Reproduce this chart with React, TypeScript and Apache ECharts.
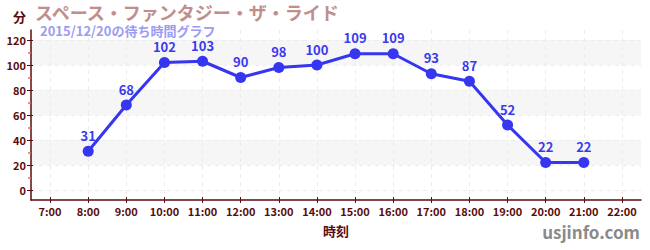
import React, { useEffect, useRef } from "react";
import * as echarts from "echarts";

const hours = ["7:00", "8:00", "9:00", "10:00", "11:00", "12:00", "13:00", "14:00", "15:00", "16:00", "17:00", "18:00", "19:00", "20:00", "21:00", "22:00"];
const waits: (number | null)[] = [null, 31, 68, 102, 103, 90, 98, 100, 109, 109, 93, 87, 52, 22, 22, null];
const yMajor = [0, 20, 40, 60, 80, 100, 120];
const yMinor = [10, 30, 50, 70, 90, 110];
const titleText = "スペース・ファンタジー・ザ・ライド";
const subText = "2015/12/20の待ち時間グラフ";
const yName = "分";
const xName = "時刻";
const siteText = "usjinfo.com";

const FONT = "'Noto Sans CJK JP', 'Noto Sans', sans-serif";
const MAROON = "#5a0c0c";

export default function App() {
  const ref = useRef<HTMLDivElement>(null);
  useEffect(() => {
    document.body.style.margin = "0";
    const chart = echarts.init(ref.current!, undefined, { renderer: "svg" });
    const xIdx = hours.map((_, i) => i);
    const data = waits
      .map((v, i) => [i, v])
      .filter((d) => d[1] !== null);
    const grid = { left: 31, right: 9, top: 30, bottom: 50 };
    const baseX = {
      type: "value",
      min: -0.5,
      max: hours.length - 0.5,
      position: "bottom",
      offset: 0,
    };
    const baseY = { type: "value", min: -8, max: 128, position: "left", offset: 0 };
    chart.setOption({
      animation: false,
      textStyle: { fontFamily: FONT },
      grid,
      title: [
        {
          text: titleText,
          left: 35,
          top: 3,
          padding: 0,
          textStyle: { fontFamily: FONT, fontSize: 18, lineHeight: 18, fontWeight: "bold", color: "#c08e8e" },
        },
        {
          text: subText,
          left: 40,
          top: 24,
          padding: 0,
          textStyle: { fontFamily: FONT, fontSize: 13, lineHeight: 13, fontWeight: "bold", color: "#9c9cf2" },
        },
        {
          text: yName,
          left: 13,
          top: 8.5,
          padding: 0,
          textStyle: { fontFamily: FONT, fontSize: 13, lineHeight: 15, fontWeight: "bold", color: MAROON },
        },
        {
          text: siteText,
          right: 10,
          top: 221,
          padding: 0,
          textStyle: { fontFamily: FONT, fontSize: 17, lineHeight: 20, fontWeight: "bold", color: "#8a8a8a" },
        },
      ],
      xAxis: [
        {
          ...baseX,
          name: xName,
          nameLocation: "middle",
          nameGap: 23,
          nameTextStyle: { fontFamily: FONT, fontSize: 13, lineHeight: 15, fontWeight: "bold", color: MAROON },
          axisLine: { show: true, onZero: false, lineStyle: { color: MAROON, width: 1.5 } },
          axisTick: { show: true, customValues: xIdx, length: 3, lineStyle: { color: MAROON } },
          axisLabel: {
            customValues: xIdx,
            formatter: (v: number) => hours[Math.round(v)] ?? "",
            margin: 5,
            fontFamily: FONT,
            fontSize: 11,
            fontWeight: "bold",
            color: MAROON,
          },
          splitLine: { show: true, lineStyle: { color: "#ececec", type: [4, 4] } },
        },
        {
          ...baseX,
          axisLine: { show: false, onZero: false },
          axisTick: { show: true, inside: true, customValues: xIdx, length: 3, lineStyle: { color: MAROON } },
          axisLabel: { show: false },
          splitLine: { show: false },
        },
      ],
      yAxis: [
        {
          ...baseY,
          axisLine: { show: true, onZero: false, lineStyle: { color: MAROON, width: 1.5 } },
          axisTick: { show: true, customValues: yMajor, length: 4, lineStyle: { color: MAROON } },
          axisLabel: {
            customValues: yMajor,
            margin: 5,
            fontFamily: FONT,
            fontSize: 11,
            fontWeight: "bold",
            color: MAROON,
          },
          splitLine: { show: true, lineStyle: { color: "#ececec", type: [4, 4] } },
          splitArea: { show: true, areaStyle: { color: ["rgba(255,255,255,0)", "#f6f6f6"] } },
        },
        {
          ...baseY,
          axisLine: { show: false, onZero: false },
          axisTick: { show: true, customValues: yMinor, length: 3, lineStyle: { color: "#e06a6a", width: 1.5 } },
          axisLabel: { show: false },
          splitLine: { show: false },
        },
        {
          ...baseY,
          axisLine: { show: false, onZero: false },
          axisTick: { show: true, inside: true, customValues: yMajor, length: 2, lineStyle: { color: MAROON } },
          axisLabel: { show: false },
          splitLine: { show: false },
        },
      ],
      series: [
        {
          type: "line",
          xAxisIndex: 0,
          yAxisIndex: 0,
          data,
          symbol: "circle",
          symbolSize: 11,
          lineStyle: { color: "#3636f0", width: 3 },
          itemStyle: { color: "#3636f0" },
          label: {
            show: true,
            position: "top",
            distance: 4,
            fontFamily: FONT,
            fontSize: 13,
            lineHeight: 13,
            fontWeight: "bold",
            color: "#3a3aee",
            formatter: (p: any) => String(p.value[1]),
          },
          z: 5,
        },
      ],
    });
    return () => chart.dispose();
  }, []);
  return <div ref={ref} style={{ width: 650, height: 250 }} />;
}
